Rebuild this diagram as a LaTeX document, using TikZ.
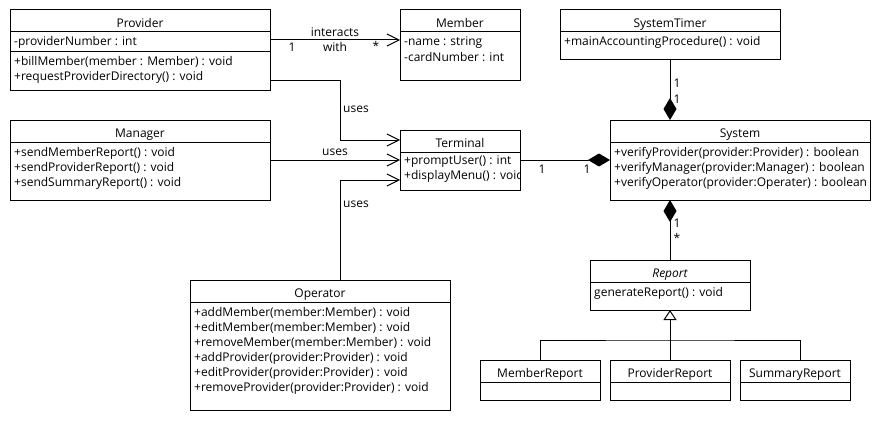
\documentclass[tikz,border=0pt]{standalone}
\usepackage{fontspec}
\setmainfont{Open Sans}
\usetikzlibrary{arrows.meta}
\newcommand{\fs}{\fontsize{12pt}{15pt}\selectfont}
\newcommand{\memlines}[3]{\foreach \t [count=\i from 0] in {#3} {\node[memline] at (#1,{#2+15*\i}) {\t};}}
\tikzset{
  box/.style={draw, line width=1pt, anchor=north west, inner sep=0pt, outer sep=0pt},
  ttl/.style={anchor=base, inner sep=0pt, font=\fs},
  memline/.style={anchor=base west, inner sep=0pt, font=\fs},
  lbl/.style={inner sep=0pt, font=\fs},
  sepl/.style={line width=1pt},
  con/.style={draw, line width=1pt},
  usesarrow/.style={-{Straight Barb[length=12pt,width=12pt,line width=1pt]}},
  comp/.style={{Diamond[length=22pt,width=13pt]}-},
  gen/.style={-{Triangle[open,length=10pt,width=13pt,line width=1pt]}},
}
\begin{document}
\begin{tikzpicture}[x=1pt,y=-1pt]
\useasboundingbox (0,0) rectangle (880,420);
\fill[white] (0,0) rectangle (880,420);

% Provider
\node[box, minimum width=260pt, minimum height=80pt] (provider) at (10,10) {};
\draw[sepl] (10,32) -- (270,32);
\draw[sepl] (10,52) -- (270,52);
\node[ttl] at (140,27.5) {Provider};
\memlines{14}{46}{{-providerNumber : int}}
\memlines{14}{66}{{+billMember(member : Member) : void},{+requestProviderDirectory() : void}}

% Member
\node[box, minimum width=120pt, minimum height=70pt] (member) at (400,10) {};
\draw[sepl] (400,32) -- (520,32);
\node[ttl] at (460,27.5) {Member};
\memlines{404}{46}{{-name : string},{-cardNumber : int}}

% Manager
\node[box, minimum width=260pt, minimum height=80pt] (manager) at (10,120) {};
\draw[sepl] (10,142) -- (270,142);
\node[ttl] at (140,137.5) {Manager};
\memlines{14}{156}{{+sendMemberReport() : void},{+sendProviderReport() : void},{+sendSummaryReport() : void}}

% Terminal
\node[box, minimum width=120pt, minimum height=60pt] (terminal) at (400,130) {};
\draw[sepl] (400,152) -- (520,152);
\node[ttl] at (460,147.5) {Terminal};
\begin{scope}
\clip (400,130) rectangle (519.5,190);
\memlines{404}{164.5}{{+promptUser() : int},{+displayMenu() : void}}
\end{scope}

% SystemTimer
\node[box, minimum width=220pt, minimum height=50pt] (systemtimer) at (560,10) {};
\draw[sepl] (560,32) -- (780,32);
\node[ttl] at (670,27.5) {SystemTimer};
\memlines{564}{46}{{+mainAccountingProcedure() : void}}

% System
\node[box, minimum width=260pt, minimum height=80pt] (system) at (610,120) {};
\draw[sepl] (610,142) -- (870,142);
\node[ttl] at (740,137.5) {System};
\begin{scope}
\clip (610,120) rectangle (869.5,200);
\memlines{614}{156}{{+verifyProvider(provider:Provider) : boolean},{+verifyManager(provider:Manager) : boolean},{+verifyOperator(provider:Operater) : boolean}}
\end{scope}

% Operator
\node[box, minimum width=260pt, minimum height=130pt] (operator) at (190,280) {};
\draw[sepl] (190,302) -- (450,302);
\node[ttl] at (320,297.5) {Operator};
\memlines{194}{316}{{+addMember(member:Member) : void},{+editMember(member:Member) : void},{+removeMember(member:Member) : void},{+addProvider(provider:Provider) : void},{+editProvider(provider:Provider) : void},{+removeProvider(provider:Provider) : void}}

% Report
\node[box, minimum width=160pt, minimum height=50pt] (report) at (590,260) {};
\draw[sepl] (590,282) -- (750,282);
\node[ttl] at (670,277.5) {\itshape Report};
\memlines{594}{296}{{generateReport() : void}}

% Subclasses
\node[box, minimum width=120pt, minimum height=40pt] (memberreport) at (480,360) {};
\draw[sepl] (480,382) -- (600,382);
\node[ttl] at (540,377) {MemberReport};
\node[box, minimum width=120pt, minimum height=40pt] (providerreport) at (610,360) {};
\draw[sepl] (610,382) -- (730,382);
\node[ttl] at (670,377) {ProviderReport};
\node[box, minimum width=110pt, minimum height=40pt] (summaryreport) at (740,360) {};
\draw[sepl] (740,382) -- (850,382);
\node[ttl] at (795,377) {SummaryReport};

% Connectors
\draw[con, usesarrow] ([yshift=-30pt]provider.north east) -- ([yshift=-30pt]provider.north east -| member.west);
\node[lbl] at (335,32) {interacts};
\node[lbl] at (335,47) {with};
\node[lbl] at (292,47) {1};
\node[lbl] at (376,46) {*};

\draw[con, usesarrow] ([yshift=-70pt]provider.north east) -- ++(70,0) |- ([yshift=-10pt]terminal.north west);
\node[lbl, anchor=west] at (343,109) {uses};

\draw[con, usesarrow] (manager.east) -- (terminal.west);
\node[lbl] at (335,152) {uses};

\draw[con, usesarrow] ([xshift=20pt]operator.north) |- ([yshift=10pt]terminal.south west);
\node[lbl, anchor=west] at (343,204) {uses};

\draw[con, {Diamond[length=22pt,width=13pt]}-] (system.west) -- (terminal.east);
\node[lbl] at (542,169) {1};
\node[lbl] at (587,169) {1};

\draw[con, comp] (systemtimer.south |- system.north) -- (systemtimer.south);
\node[lbl] at (677,83) {1};
\node[lbl] at (677,99) {1};

\draw[con, comp] (report.north |- system.south) -- (report.north);
\node[lbl] at (677,223) {1};
\node[lbl] at (677,238) {*};

\coordinate (junction) at (670,340);
\draw[con, gen] (providerreport.north) -- (report.south);
\draw[con] (memberreport.north) |- (junction) -| ([xshift=5pt]summaryreport.north);
\end{tikzpicture}
\end{document}
